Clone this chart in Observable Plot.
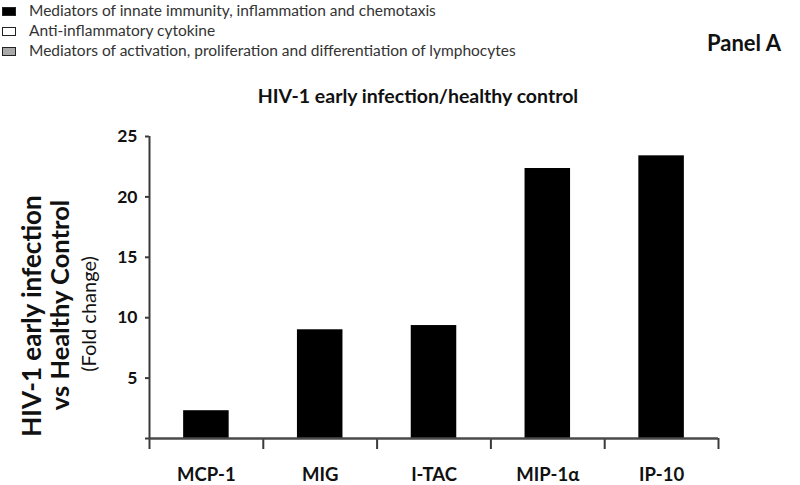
<!DOCTYPE html>
<html>
<head>
<meta charset="utf-8">
<script src="https://cdn.jsdelivr.net/npm/d3@7"></script>
<script src="https://cdn.jsdelivr.net/npm/@observablehq/plot@0.6"></script>
<style>
  html, body { margin: 0; padding: 0; background: #fff; }
  #wrap { position: relative; width: 800px; height: 485px; font-family: Lato, "Open Sans", sans-serif; color: #111; overflow: hidden; }
  #chart { position: absolute; left: 0; top: 0; }
  .legend { position: absolute; left: 2px; top: 0; font-size: 15.5px; color: #333; }
  .legend .row { position: absolute; left: 0; white-space: nowrap; height: 20px; line-height: 20px; }
  .legend .sw { position: absolute; left: 0; top: 7px; width: 12px; height: 7px; border: 1px solid #222; }
  .legend .lab { position: absolute; left: 27px; top: 0; }
  .panel { position: absolute; left: 707px; top: 29px; font-size: 22px; font-weight: bold; color: #111; }
  .title { position: absolute; left: 418px; top: 84px; transform: translateX(-50%); font-size: 19.5px; font-weight: bold; white-space: nowrap; color: #111; }
  .ytitle { position: absolute; white-space: nowrap; font-weight: bold; color: #111; transform: translate(-50%, -50%) rotate(-90deg); }
</style>
</head>
<body>
<div id="wrap">
  <div id="chart"></div>
  <div class="legend" id="legend"></div>
  <div class="panel" id="panel"></div>
  <div class="title" id="title"></div>
  <div class="ytitle" id="yt1" style="left:31px; top:316px; font-size:26px;"></div>
  <div class="ytitle" id="yt2" style="left:59px; top:305px; font-size:25.5px;"></div>
  <div class="ytitle" id="yt3" style="left:88px; top:314px; font-size:20px; font-weight:normal;"></div>
</div>
<script>
// ---- data ----
const categories = ["MCP-1", "MIG", "I-TAC", "MIP-1α", "IP-10"];
const foldChange = [2.3, 9.0, 9.35, 22.35, 23.4];
const yTicks = [0, 5, 10, 15, 20, 25];
const legendLabels = [
  "Mediators of innate immunity, inflammation and chemotaxis",
  "Anti-inflammatory cytokine",
  "Mediators of activation, proliferation and differentiation of lymphocytes"
];
const legendColors = ["#000000", "#ffffff", "#a9a9a9"];
const chartTitle = "HIV-1 early infection/healthy control";
const panelLabel = "Panel A";
const yTitleLines = ["HIV-1 early infection", "vs Healthy Control", "(Fold change)"];

// ---- build table ----
const data = categories.map((c, i) => ({ i, category: c, value: foldChange[i] }));
const barHalf = 0.2; // bar half-width in band units
const bandEdges = d3.range(categories.length + 1);
const bandCenters = categories.map((c, i) => i + 0.5);

const plot = Plot.plot({
  width: 800,
  height: 485,
  marginLeft: 149,
  marginRight: 82,
  marginTop: 136,
  marginBottom: 47,
  style: { fontFamily: "Lato, 'Open Sans', sans-serif", color: "#3a3a3a", background: "transparent" },
  x: { type: "linear", domain: [0, categories.length] },
  y: { domain: [0, 25] },
  marks: [
    Plot.rectY(data, { x1: d => d.i + 0.5 - barHalf, x2: d => d.i + 0.5 + barHalf, y: "value", fill: "#000" }),
    Plot.axisY({ ticks: yTicks, tickSize: 4, tickPadding: 8, strokeWidth: 2,
      tickFormat: d => d === 0 ? "" : String(d), fontSize: 17.5, fontWeight: "bold", fill: "#111", label: null }),
    Plot.axisX({ ticks: bandEdges, tickSize: 11, strokeWidth: 2, tickFormat: () => "", label: null }),
    Plot.axisX({ ticks: bandCenters, tickSize: 0, tickPadding: 29, tickFormat: v => categories[Math.round(v - 0.5)],
      fontSize: 18.5, fontWeight: "bold", fill: "#111", label: null }),
    Plot.ruleY([0], { stroke: "#4a4a4a", strokeWidth: 2.5 }),
    Plot.ruleX([0], { stroke: "#3a3a3a", strokeWidth: 2 })
  ]
});
document.getElementById("chart").appendChild(plot);

// ---- legend & texts ----
const leg = document.getElementById("legend");
legendLabels.forEach((t, k) => {
  const row = document.createElement("div");
  row.className = "row";
  row.style.top = (k * 20) + "px";
  const sw = document.createElement("div");
  sw.className = "sw";
  sw.style.background = legendColors[k];
  const lab = document.createElement("div");
  lab.className = "lab";
  lab.textContent = t;
  row.appendChild(sw); row.appendChild(lab);
  leg.appendChild(row);
});
document.getElementById("panel").textContent = panelLabel;
document.getElementById("title").textContent = chartTitle;
document.getElementById("yt1").textContent = yTitleLines[0];
document.getElementById("yt2").textContent = yTitleLines[1];
document.getElementById("yt3").textContent = yTitleLines[2];
</script>
</body>
</html>
